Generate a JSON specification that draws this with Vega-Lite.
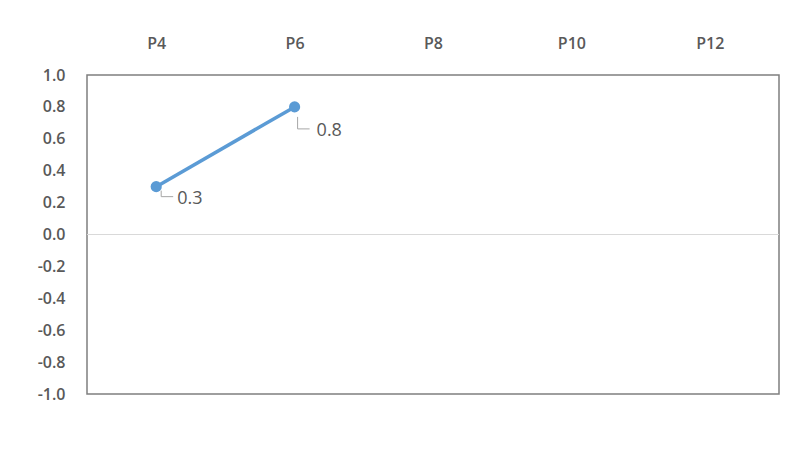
{
  "$schema": "https://vega.github.io/schema/vega-lite/v6.json",
  "autosize": {"type": "none"},
  "width": 692,
  "height": 319,
  "padding": {"left": 87, "top": 75, "right": 18, "bottom": 63},
  "background": "white",
  "config": {
    "view": {"stroke": "#7f7f7f", "strokeWidth": 1.5},
    "font": "Open Sans"
  },
  "datasets": {
    "pts": [
      {"cat": "P4", "value": 0.3, "label": "0.3"},
      {"cat": "P6", "value": 0.8, "label": "0.8"}
    ]
  },
  "encoding": {
    "x": {
      "field": "cat", "type": "nominal",
      "sort": ["P4", "P6", "P8", "P10", "P12"],
      "scale": {"domain": ["P4", "P6", "P8", "P10", "P12"], "paddingInner": 0, "paddingOuter": 0},
      "axis": {
        "orient": "top", "title": null, "ticks": false, "domain": false, "labelAngle": 0,
        "labelPadding": 24, "labelFontSize": 16, "labelFontWeight": 600, "labelColor": "#595959"
      }
    },
    "y": {
      "field": "value", "type": "quantitative",
      "scale": {"domain": [-1, 1], "nice": false},
      "axis": {
        "title": null, "ticks": false, "domain": false, "grid": false,
        "values": [-1, -0.8, -0.6, -0.4, -0.2, 0, 0.2, 0.4, 0.6, 0.8, 1],
        "format": ".1f", "labelExpr": "replace(datum.label, '−', '-')",
        "labelPadding": 22, "labelFontSize": 16, "labelFontWeight": 600, "labelColor": "#595959"
      }
    }
  },
  "layer": [
    {
      "data": {"values": [{"zero": 0}]},
      "mark": {"type": "rule", "color": "#d9d9d9", "strokeWidth": 1},
      "encoding": {"x": null, "y": {"field": "zero", "type": "quantitative"}}
    },
    {
      "data": {"name": "pts"},
      "mark": {"type": "line", "color": "#5b9bd5", "strokeWidth": 3.5}
    },
    {
      "data": {"name": "pts"},
      "mark": {"type": "point", "filled": true, "color": "#5b9bd5", "size": 125, "opacity": 1}
    },
    {
      "data": {"name": "pts"},
      "transform": [{"filter": "datum.cat == 'P4'"}],
      "mark": {"type": "point", "shape": "M5,4 L5,10 L17,10", "size": 4, "filled": false, "stroke": "#a6a6a6", "strokeWidth": 1, "opacity": 1}
    },
    {
      "data": {"name": "pts"},
      "transform": [{"filter": "datum.cat == 'P6'"}],
      "mark": {"type": "point", "shape": "M3,10 L3,22 L15,22", "size": 4, "filled": false, "stroke": "#a6a6a6", "strokeWidth": 1, "opacity": 1}
    },
    {
      "data": {"name": "pts"},
      "transform": [{"filter": "datum.cat == 'P4'"}],
      "mark": {"type": "text", "align": "left", "baseline": "middle", "dx": 21, "dy": 12, "fontSize": 18, "color": "#595959"},
      "encoding": {"text": {"field": "label"}}
    },
    {
      "data": {"name": "pts"},
      "transform": [{"filter": "datum.cat == 'P6'"}],
      "mark": {"type": "text", "align": "left", "baseline": "middle", "dx": 22, "dy": 24, "fontSize": 18, "color": "#595959"},
      "encoding": {"text": {"field": "label"}}
    }
  ]
}
